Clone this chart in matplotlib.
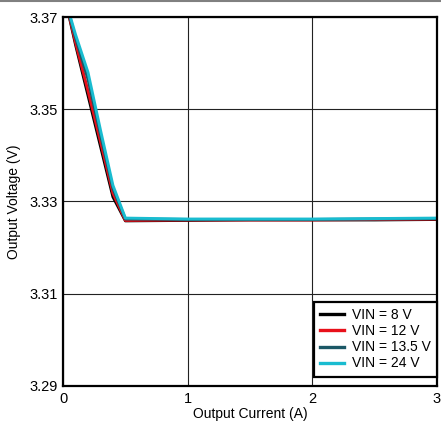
import matplotlib
matplotlib.use('Agg')
import matplotlib.pyplot as plt
from matplotlib.lines import Line2D

plt.rcParams['font.family'] = ['Liberation Sans', 'DejaVu Sans']

# output current (A)
current = [0.05, 0.1, 0.2, 0.3, 0.4, 0.5, 1.0, 1.5, 2.0, 2.5, 3.0]

# output voltage (V) per input voltage
v_8 = [3.3700, 3.3640, 3.3530, 3.3420, 3.3310, 3.3258, 3.3259, 3.3260, 3.3260, 3.3260, 3.3261]
v_12 = [3.3702, 3.3645, 3.3540, 3.3430, 3.3318, 3.3259, 3.3260, 3.3260, 3.3260, 3.3261, 3.3262]
v_13_5 = [3.3705, 3.3655, 3.3565, 3.3445, 3.3328, 3.3262, 3.3261, 3.3261, 3.3261, 3.3262, 3.3263]
v_24 = [3.3708, 3.3662, 3.3580, 3.3455, 3.3335, 3.3264, 3.3262, 3.3262, 3.3262, 3.3263, 3.3264]

labels = ['VIN = 8 V', 'VIN = 12 V', 'VIN = 13.5 V', 'VIN = 24 V']
colors = ['#000000', '#e8101a', '#1b5866', '#19bcd0']

x_ticks = [0, 1, 2, 3]
y_ticks = [3.29, 3.31, 3.33, 3.35, 3.37]

fig = plt.figure(figsize=(4.41, 4.26), dpi=100)
ax = fig.add_axes([0.143, 0.094, 0.848, 0.866])

for v, lab, c in zip([v_8, v_12, v_13_5, v_24], labels, colors):
    ax.plot(current, v, color=c, linewidth=2.1, label=lab)

ax.set_xlim(0, 3)
ax.set_ylim(3.29, 3.37)
ax.set_xticks(x_ticks)
ax.set_xticklabels([str(t) for t in x_ticks])
ax.set_yticks(y_ticks)
ax.set_yticklabels(['%.2f' % t for t in y_ticks])
ax.tick_params(length=0, labelsize=10.5, pad=4)
ax.grid(True, color='#222222', linewidth=0.8)
for s in ax.spines.values():
    s.set_linewidth(1.6)

ax.set_xlabel('Output Current (A)', fontsize=10, labelpad=1)
ax.set_ylabel('Output Voltage (V)', fontsize=10, labelpad=6)

leg = ax.legend(loc='lower right', bbox_to_anchor=(1.0, 0.025), fontsize=10,
                frameon=True, fancybox=False, framealpha=1, edgecolor='black',
                handlelength=1.75, handletextpad=0.55, labelspacing=0.15,
                borderpad=0.45, borderaxespad=0)
leg.get_frame().set_linewidth(1.6)
for h in leg.legend_handles:
    h.set_linewidth(2.4)

# thin gray border at the top of the picture
fig.add_artist(Line2D([0, 1], [0.998, 0.998], color='#808080', linewidth=1.5,
                      transform=fig.transFigure))

fig.savefig('out.png', dpi=100)
